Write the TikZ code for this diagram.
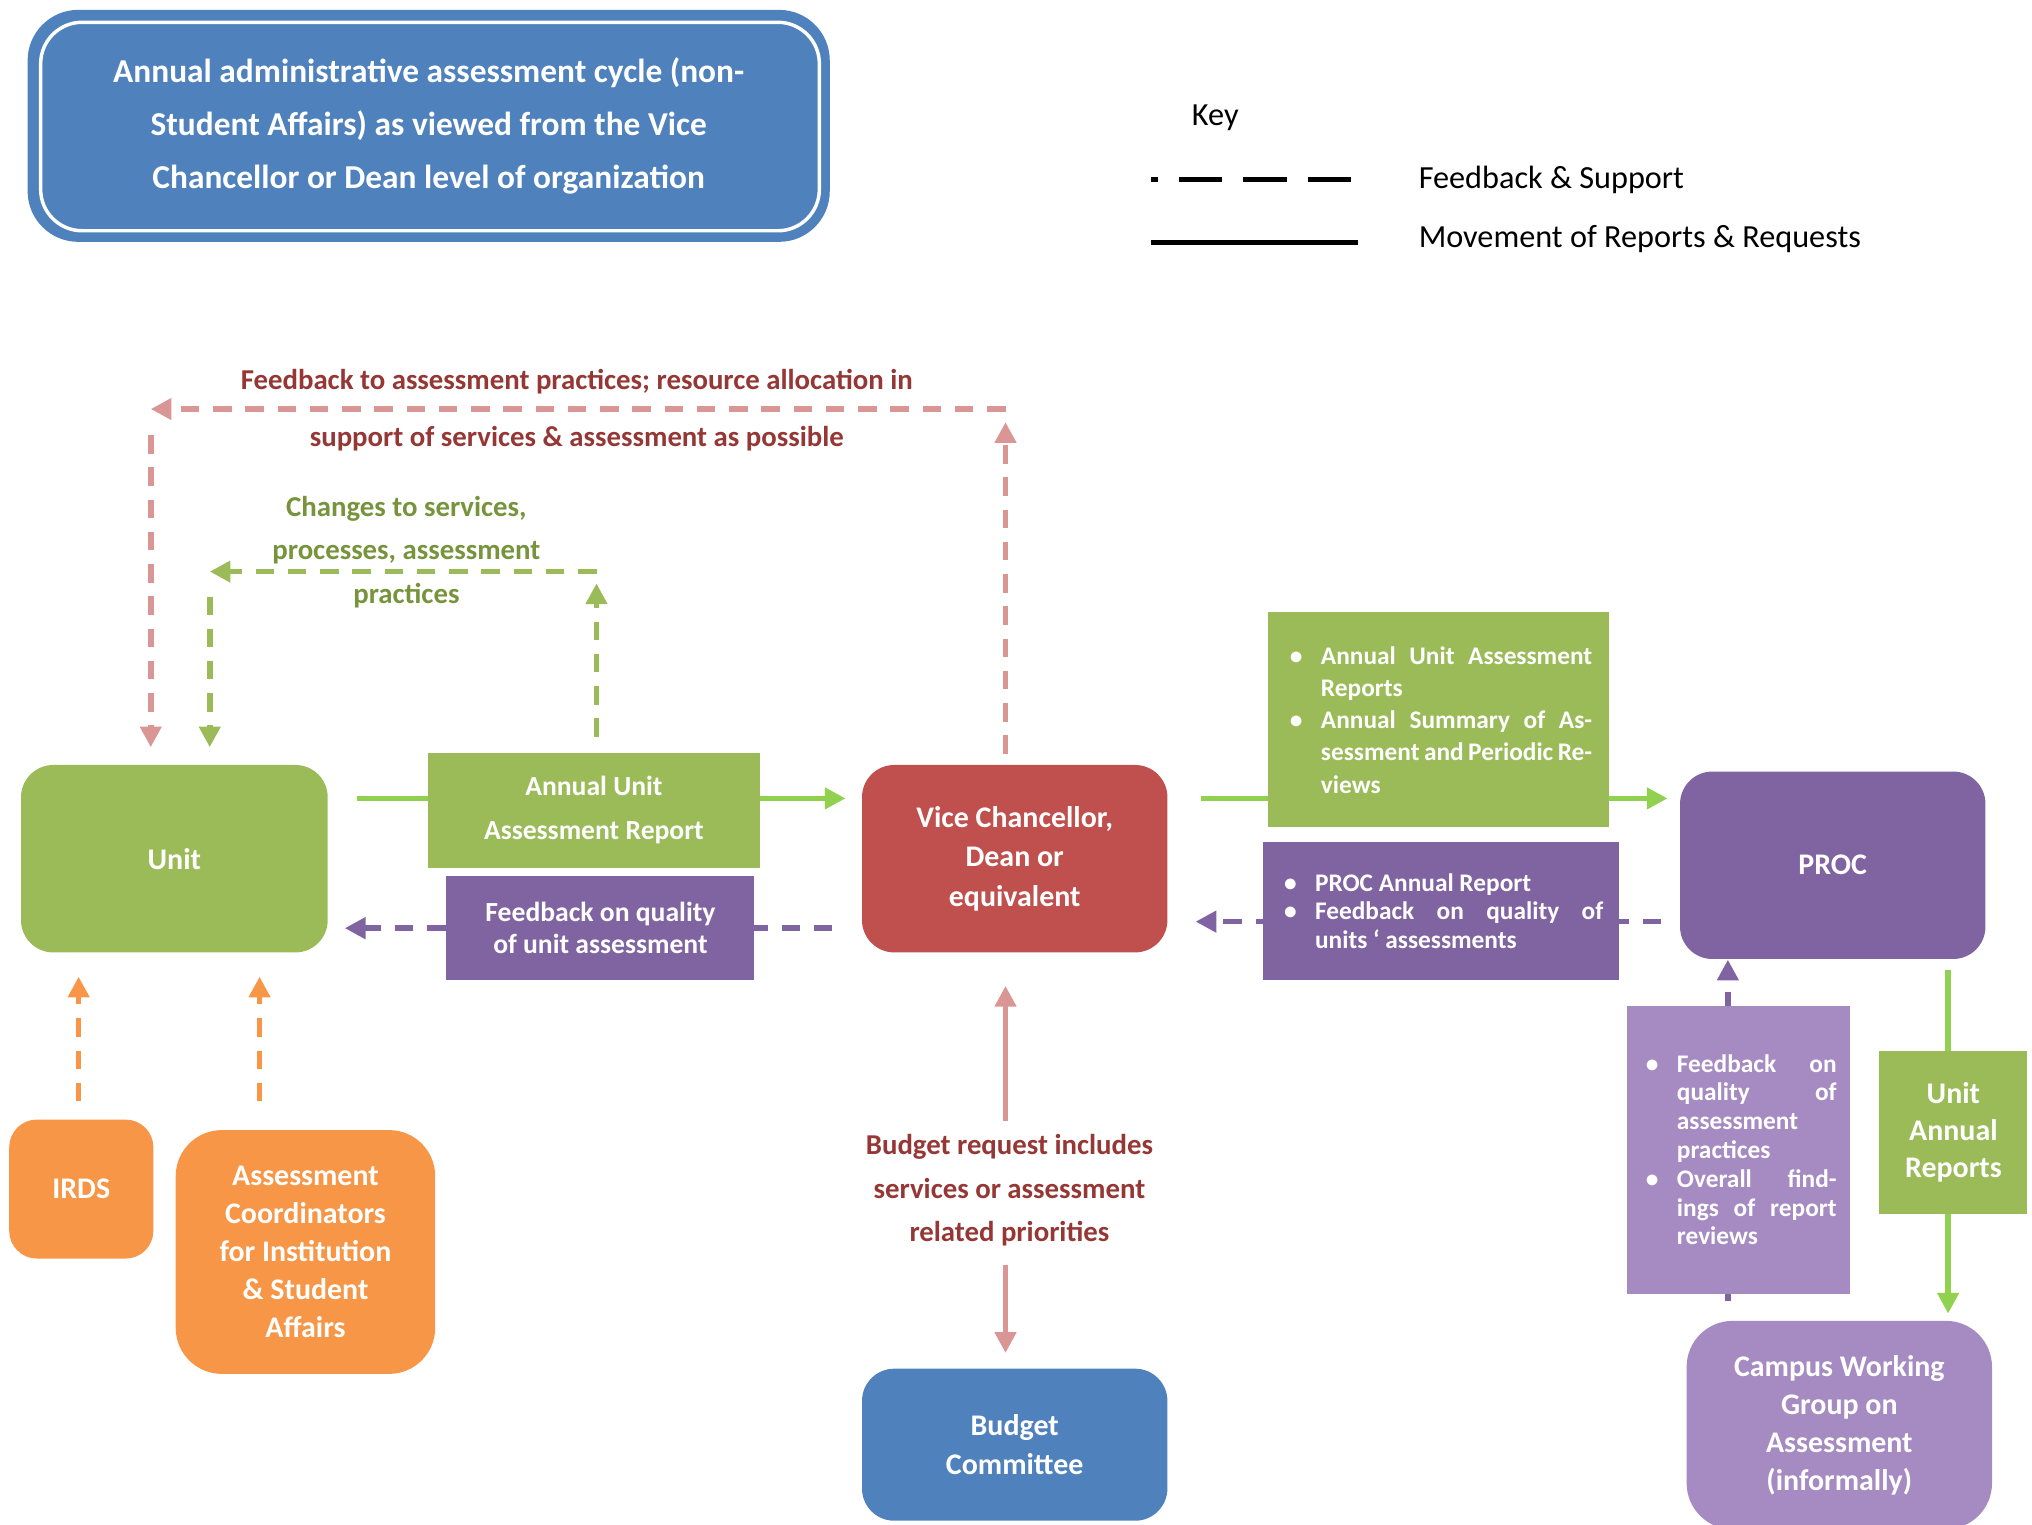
\documentclass[tikz,border=0pt]{standalone}
\usepackage{fontspec}
\setmainfont{Carlito}
\usetikzlibrary{arrows.meta}
\definecolor{cblue}{HTML}{4F81BD}
\definecolor{cgreen}{HTML}{9BBB59}
\definecolor{clime}{HTML}{92D050}
\definecolor{cred}{HTML}{C0504D}
\definecolor{cpurple}{HTML}{8064A2}
\definecolor{clav}{HTML}{A68BC2}
\definecolor{corange}{HTML}{F79646}
\definecolor{cpink}{HTML}{D99694}
\definecolor{cdred}{HTML}{953735}
\definecolor{cdgreen}{HTML}{77933C}
\newcommand{\bullist}[2]{\begin{minipage}{#1}\begin{list}{\textbullet}{\setlength{\itemsep}{0pt}\setlength{\parsep}{0pt}\setlength{\topsep}{0pt}\setlength{\leftmargin}{16pt}\setlength{\labelwidth}{8pt}\setlength{\labelsep}{8pt}}#2\end{list}\end{minipage}}
\tikzset{
  box/.style={rounded corners=14pt, text=white, font=\bfseries\fontsize{13}{17}\selectfont, align=center, inner sep=0pt},
  lbl/.style={text=white, font=\bfseries\fontsize{12}{16}\selectfont, inner sep=0pt},
  dsh/.style={line width=2.4pt, dash pattern=on 8pt off 6pt, -{Triangle[length=9pt,width=9pt]}},
  sld/.style={line width=2.4pt, -{Triangle[length=9pt,width=9pt]}},
}
\begin{document}
\begin{tikzpicture}[x=0.02cm, y=-0.02cm]
\useasboundingbox (0,0) rectangle (1550,1163);
% title and key
\node[box, fill=cblue, rounded corners=22pt, minimum width=12.24cm, minimum height=3.54cm] at (327,96) (title) {};
\draw[white, line width=1.5pt, rounded corners=18pt] (31,17) rectangle (625,176);
\node[text=white, font=\bfseries\fontsize{14.5}{23}\selectfont, align=center] at (327,96) (titletext) {Annual administrative assessment cycle (non-\\Student Affairs) as viewed from the Vice\\Chancellor or Dean level of organization};
\node[font=\fontsize{14}{16}\selectfont] at (927,90) (key) {Key};
\coordinate (k1a) at (878,137); \coordinate (k1b) at (1036,137);
\coordinate (k2a) at (878,185); \coordinate (k2b) at (1036,185);
\draw[line width=2.5pt, dash pattern=on 3pt off 9pt on 19pt off 9pt on 19pt off 9pt on 19pt off 9pt on 19pt off 9pt on 19pt] (k1a) -- (k1b);
\draw[line width=2.5pt] (k2a) -- (k2b);
\node[anchor=west, font=\fontsize{14}{16}\selectfont] at (1076,137) (kfb) {Feedback \& Support};
\node[anchor=west, font=\fontsize{14}{16}\selectfont] at (1076,182) (kmv) {Movement of Reports \& Requests};

% main nodes
\node[box, fill=cgreen, minimum width=4.68cm, minimum height=2.86cm] at (133,655) (Unit) {Unit};
\node[box, fill=cred, minimum width=4.66cm, minimum height=2.86cm] at (774,655) (VC) {Vice Chancellor,\\Dean or\\equivalent};
\node[box, fill=cpurple, minimum width=4.66cm, minimum height=2.86cm] at (1398,660) (PROC) {PROC};
\node[box, fill=corange, rounded corners=12pt, minimum width=2.2cm, minimum height=2.12cm] at (62,907) (IRDS) {IRDS};
\node[box, fill=corange, rounded corners=20pt, minimum width=3.96cm, minimum height=3.72cm, font=\bfseries\fontsize{13}{16.5}\selectfont] at (233,955) (AC) {Assessment\\Coordinators\\for Institution\\\& Student\\Affairs};
\node[box, fill=cblue, minimum width=4.66cm, minimum height=2.32cm] at (774,1102) (Budget) {Budget\\Committee};
\node[box, fill=clav, rounded corners=20pt, minimum width=4.66cm, minimum height=3.18cm, font=\bfseries\fontsize{13}{16.5}\selectfont] at (1403,1087) (CWG) {Campus Working\\Group on\\Assessment\\(informally)};

% connectors
\coordinate (g1a) at (272,609); \coordinate (g1b) at (645,609);
\coordinate (g2a) at (916,609); \coordinate (g2b) at (1272,609);
\coordinate (p1a) at (635,708); \coordinate (p1b) at (263,708);
\coordinate (p2a) at (1267,703); \coordinate (p2b) at (912,703);
\coordinate (r1) at (767,575); \coordinate (r2) at (767,322);
\coordinate (r3) at (767,312); \coordinate (r4) at (115,312);
\coordinate (r5) at (115,332); \coordinate (r6) at (115,570);
\coordinate (c1) at (455,562); \coordinate (c2) at (455,445);
\coordinate (c3) at (455,436); \coordinate (c4) at (160,436);
\coordinate (c5) at (160,455); \coordinate (c6) at (160,570);
\coordinate (o1) at (60,840); \coordinate (o2) at (60,745);
\coordinate (o3) at (198,840); \coordinate (o4) at (198,745);
\coordinate (b1) at (767,855); \coordinate (b2) at (767,752);
\coordinate (b3) at (767,965); \coordinate (b4) at (767,1032);
\coordinate (v1) at (1318,992); \coordinate (v2) at (1318,732);
\coordinate (u1) at (1486,740); \coordinate (u2) at (1486,1002);

\draw[sld, clime] (g1a) -- (g1b);
\draw[sld, clime] (g2a) -- (g2b);
\draw[dsh, cpurple] (p1a) -- (p1b);
\draw[dsh, cpurple] (p2a) -- (p2b);
\draw[dsh, cpink] (r1) -- (r2);
\draw[dsh, cpink] (r3) -- (r4);
\draw[dsh, cpink] (r5) -- (r6);
\draw[dsh, cgreen] (c1) -- (c2);
\draw[dsh, cgreen] (c3) -- (c4);
\draw[dsh, cgreen] (c5) -- (c6);
\draw[dsh, corange] (o1) -- (o2);
\draw[dsh, corange] (o3) -- (o4);
\draw[sld, cpink] (b1) -- (b2);
\draw[sld, cpink] (b3) -- (b4);
\draw[dsh, cpurple] (v1) -- (v2);
\draw[sld, clime] (u1) -- (u2);

% label boxes
\node[lbl, fill=cgreen, minimum width=5.06cm, minimum height=1.76cm, align=center, font=\bfseries\fontsize{12}{17}\selectfont] at (453,618) (AUAR) {Annual Unit\\[2pt]Assessment Report};
\node[lbl, fill=cpurple, minimum width=4.7cm, minimum height=1.58cm, align=center, font=\bfseries\fontsize{12}{14}\selectfont] at (458,708) (FBQ) {Feedback on quality\\of unit assessment};
\node[lbl, fill=cgreen, minimum width=5.2cm, minimum height=3.28cm, font=\bfseries\fontsize{11}{14}\selectfont] at (1097,549) (AUS) {\bullist{4.7cm}{\item Annual Unit Assessment Reports\item Annual Summary of Assessment and Periodic Reviews}};
\node[lbl, fill=cpurple, minimum width=5.44cm, minimum height=2.1cm, font=\bfseries\fontsize{11}{12.5}\selectfont] at (1099,695) (PAR) {\bullist{4.96cm}{\item PROC Annual Report\item Feedback on quality of units ‘ assessments}};
\node[lbl, fill=clav, minimum width=3.4cm, minimum height=4.4cm, font=\bfseries\fontsize{11}{12.5}\selectfont] at (1326,877) (FQA) {\bullist{3cm}{\item Feedback on quality of assessment practices\item Overall findings of report reviews}};
\node[lbl, fill=cgreen, minimum width=2.26cm, minimum height=2.48cm, align=center, font=\bfseries\fontsize{13}{16}\selectfont] at (1490,864) (UAR) {Unit\\Annual\\Reports};

% free labels
\node[text=cdred, font=\bfseries\fontsize{12.5}{25}\selectfont, align=center] at (440,313) (fbtext) {Feedback to assessment practices; resource allocation in\\support of services \& assessment as possible};
\node[text=cdgreen, font=\bfseries\fontsize{12.5}{19}\selectfont, align=center] at (310,421) (chtext) {Changes to services,\\processes, assessment\\practices};
\node[text=cdred, font=\bfseries\fontsize{12.5}{19}\selectfont, align=center] at (770,908) (bdtext) {Budget request includes\\services or assessment\\related priorities};
\end{tikzpicture}
\end{document}
